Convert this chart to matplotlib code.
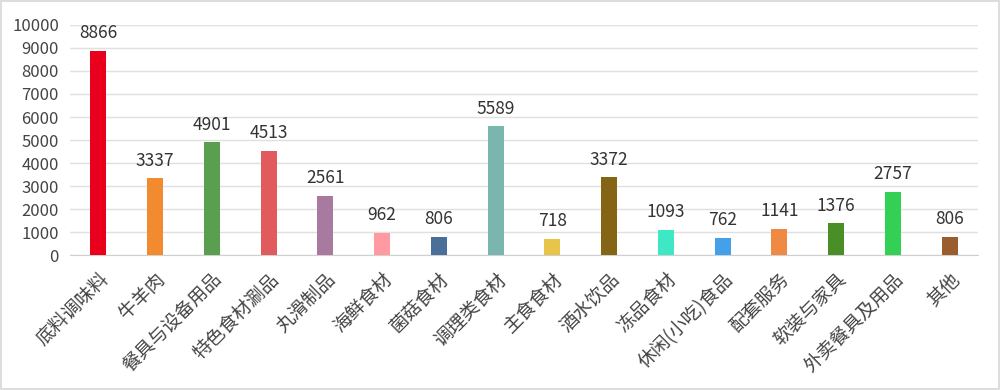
import matplotlib.pyplot as plt

plt.rcParams['font.family'] = ['Noto Sans CJK SC', 'DejaVu Sans']

categories = ['底料调味料', '牛羊肉', '餐具与设备用品', '特色食材涮品', '丸滑制品', '海鲜食材',
              '菌菇食材', '调理类食材', '主食食材', '酒水饮品', '冻品食材', '休闲(小吃)食品',
              '配套服务', '软装与家具', '外卖餐具及用品', '其他']
values = [8866, 3337, 4901, 4513, 2561, 962, 806, 5589, 718, 3372, 1093, 762, 1141, 1376, 2757, 806]
colors = ['#E8001C', '#F28A30', '#5A9E4F', '#E05A5E', '#A87AA0', '#FF9AA2', '#4A6F98', '#7AB5AE',
          '#E8C44A', '#856515', '#3EE8C4', '#44A0E8', '#EE8A44', '#4A8E28', '#33D055', '#9A5E2E']
yticks = list(range(0, 10001, 1000))

fig = plt.figure(figsize=(10, 3.9), dpi=100)
fig.patch.set_edgecolor('#dddddd')
fig.patch.set_linewidth(1.5)
ax = fig.add_axes([0.07, 0.346, 0.908, 0.59])

x = range(len(categories))
ax.bar(x, values, width=0.28, color=colors, zorder=3)
for i, v in zip(x, values):
    ax.text(i, v + 380, str(v), ha='center', va='bottom', fontsize=12.5, color='#333333')

ax.set_xlim(-0.5, len(categories) - 0.5)
ax.set_ylim(0, 10000)
ax.set_yticks(yticks)
ax.yaxis.grid(True, color='#e0e0e0', linewidth=1, zorder=0)
ax.tick_params(axis='y', length=0, labelsize=12, labelcolor='#444444', pad=8)
ax.tick_params(axis='x', length=0, pad=10)
ax.set_xticks(list(x))
ax.set_xticklabels(categories, rotation=45, ha='right', rotation_mode='anchor',
                   fontsize=13.5, color='#444444')
for s in ['top', 'right', 'left']:
    ax.spines[s].set_visible(False)
ax.spines['bottom'].set_color('#d0d0d0')

fig.savefig('out.png', dpi=100, edgecolor=fig.get_edgecolor())
